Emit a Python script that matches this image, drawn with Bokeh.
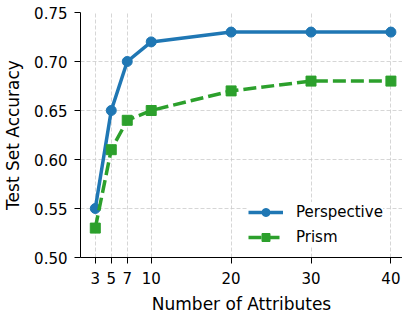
from bokeh.plotting import figure
from bokeh.models import Range1d, FixedTicker, Legend, LegendItem, CustomJSTickFormatter
from bokeh.embed import file_html
from bokeh.resources import INLINE

attributes = [3, 5, 7, 10, 20, 30, 40]
perspective = [0.55, 0.65, 0.70, 0.72, 0.73, 0.73, 0.73]
prism = [0.53, 0.61, 0.64, 0.65, 0.67, 0.68, 0.68]
y_ticks = [0.50, 0.55, 0.60, 0.65, 0.70, 0.75]

BLUE = "#1f77b4"
GREEN = "#2ca02c"
FONT = "DejaVu Sans"

p = figure(width=402, height=316, output_backend="svg", toolbar_location=None,
           x_range=Range1d(1.15, 41.45), y_range=Range1d(0.50, 0.75),
           min_border_left=80, min_border_right=0, min_border_top=12, min_border_bottom=56)
p.background_fill_color = "white"
p.border_fill_color = "white"
p.outline_line_color = None

p.xaxis.ticker = FixedTicker(ticks=attributes)
p.yaxis.ticker = FixedTicker(ticks=y_ticks)
p.yaxis.formatter = CustomJSTickFormatter(code="return tick.toFixed(2);")

for ax in (p.xaxis[0], p.yaxis[0]):
    ax.axis_line_color = "black"
    ax.axis_line_width = 1
    ax.major_tick_line_color = "black"
    ax.major_tick_line_width = 1
    ax.major_tick_out = 6
    ax.major_tick_in = 0
    ax.minor_tick_line_color = None
    ax.major_label_text_font = FONT
    ax.major_label_text_font_size = "15px"
    ax.major_label_text_color = "black"
    ax.axis_label_text_font = FONT
    ax.axis_label_text_font_size = "17px"
    ax.axis_label_text_font_style = "normal"
    ax.axis_label_text_color = "black"

p.xaxis.major_label_standoff = 8
p.xaxis.axis_label_standoff = 7
p.yaxis.major_label_standoff = 7
p.yaxis.axis_label_standoff = 8

p.xaxis.axis_label = "Number of Attributes"
p.yaxis.axis_label = "Test Set Accuracy"

for g in (p.xgrid[0], p.ygrid[0]):
    g.grid_line_color = "#cccccc"
    g.grid_line_width = 0.8
    g.grid_line_dash = "4 2"
p.xgrid.ticker = FixedTicker(ticks=attributes)
p.ygrid.ticker = FixedTicker(ticks=y_ticks)

l1 = p.line(attributes, perspective, line_color=BLUE, line_width=3.5)
m1 = p.scatter(attributes, perspective, marker="circle", size=10,
               fill_color=BLUE, line_color=BLUE)
l2 = p.line(attributes, prism, line_color=GREEN, line_width=3.5, line_dash="13 5")
m2 = p.scatter(attributes, prism, marker="square", size=10,
               fill_color=GREEN, line_color=GREEN)

legend = Legend(items=[LegendItem(label="Perspective", renderers=[l1, m1]),
                       LegendItem(label="Prism", renderers=[l2, m2])],
                location=(168, 10))
legend.label_text_font = FONT
legend.label_text_font_size = "15px"
legend.label_text_color = "black"
legend.glyph_width = 35
legend.glyph_height = 20
legend.label_height = 20
legend.label_standoff = 13
legend.spacing = 5
legend.padding = 6
legend.margin = 0
legend.border_line_color = None
legend.background_fill_color = "white"
legend.background_fill_alpha = 1.0
p.add_layout(legend, "center")

open("out.html", "w").write(file_html(p, INLINE))
